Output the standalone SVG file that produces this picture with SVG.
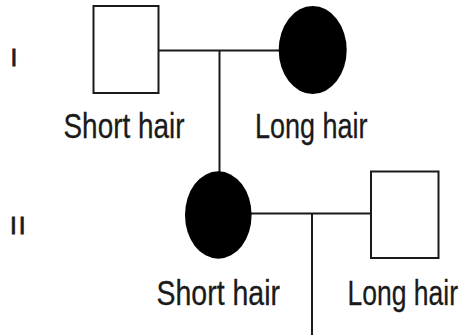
<svg xmlns="http://www.w3.org/2000/svg" width="462" height="335" viewBox="0 0 462 335">
<style>
.ln{stroke:#1a1a1a;stroke-width:2;fill:none}
.male{fill:#fff;stroke:#1a1a1a;stroke-width:2}
.aff{fill:#000}
.lbl{font-family:"Liberation Sans",Arial,sans-serif;font-size:34.5px;fill:#1a1a1a;stroke:#1a1a1a;stroke-width:0.3}
.gen{font-family:"Liberation Sans",Arial,sans-serif;font-size:24.5px;fill:#1a1a1a;stroke:#1a1a1a;stroke-width:0.8;text-anchor:middle}
</style>
<rect width="462" height="335" fill="#fff"/>
<g id="generation-labels">
<text class="gen" x="14" y="66">I</text>
<text class="gen" x="18.8" y="234" letter-spacing="2">II</text>
</g>
<g id="connectors">
<line class="ln" x1="158.5" y1="50.5" x2="279" y2="50.5"/>
<line class="ln" x1="219.5" y1="50.5" x2="219.5" y2="172"/>
<line class="ln" x1="251" y1="213.5" x2="371" y2="213.5"/>
<line class="ln" x1="312" y1="213.5" x2="312" y2="335"/>
</g>
<g id="I-1">
<rect class="male" x="93.5" y="6" width="65" height="87"/>
<text class="lbl" x="63.5" y="137.5" textLength="121" lengthAdjust="spacingAndGlyphs">Short hair</text>
</g>
<g id="I-2">
<ellipse class="aff" cx="312.7" cy="50" rx="34" ry="44"/>
<text class="lbl" x="255" y="137.5" textLength="112.5" lengthAdjust="spacingAndGlyphs">Long hair</text>
</g>
<g id="II-1">
<ellipse class="aff" cx="218.3" cy="215" rx="33.3" ry="43.7"/>
<text class="lbl" x="156.5" y="304.5" textLength="123.5" lengthAdjust="spacingAndGlyphs">Short hair</text>
</g>
<g id="II-2">
<rect class="male" x="371" y="171.5" width="67.5" height="86.5"/>
<text class="lbl" x="347.5" y="304.5" textLength="110.5" lengthAdjust="spacingAndGlyphs">Long hair</text>
</g>
</svg>
